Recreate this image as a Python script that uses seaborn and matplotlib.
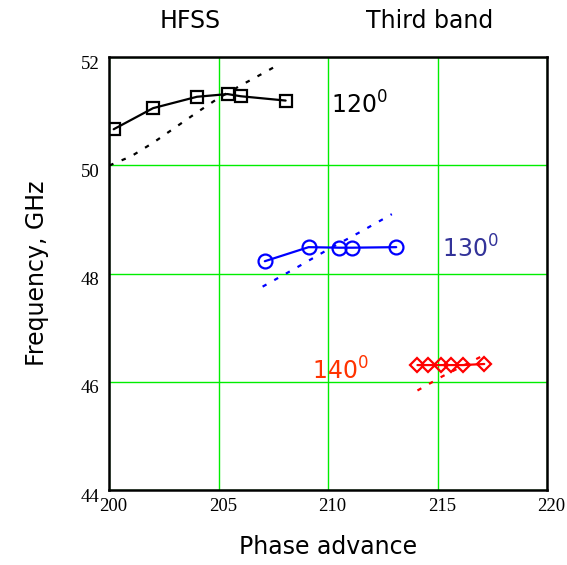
import matplotlib
matplotlib.use("Agg")
import matplotlib.pyplot as plt
import matplotlib.transforms as mtransforms
import seaborn as sns
import pandas as pd

# Simulated dispersion points (phase advance in degrees, frequency in GHz)
phase_120 = [200.2, 202.0, 204.0, 205.4, 206.0, 208.05]
freq_120 = [50.67, 51.06, 51.27, 51.32, 51.28, 51.20]
phase_130 = [207.1, 209.1, 210.5, 211.1, 213.1]
freq_130 = [48.23, 48.49, 48.48, 48.48, 48.49]
phase_140 = [214.07, 214.57, 215.13, 215.62, 216.14, 217.12]
freq_140 = [46.31, 46.31, 46.31, 46.31, 46.31, 46.33]

# Reference (analytic) curves
ref_phase_120 = [200.0, 201.0, 202.0, 203.0, 204.0, 205.0, 206.0, 207.0, 207.8]
ref_freq_120 = [50.00, 50.17, 50.42, 50.70, 50.98, 51.25, 51.48, 51.70, 51.88]
ref_phase_130 = [207.0, 208.5, 210.0, 211.5, 212.9]
ref_freq_130 = [47.76, 48.10, 48.45, 48.78, 49.10]
ref_phase_140 = [214.07, 215.2, 217.04]
ref_freq_140 = [45.84, 46.10, 46.48]

x_ticks = [200, 205, 210, 215, 220]
y_ticks = [44, 46, 48, 50, 52]

sns.set_theme(style="white")
plt.rcParams["font.family"] = ["DejaVu Sans"]
plt.rcParams["mathtext.fontset"] = "dejavusans"
for key in ("text.color", "axes.labelcolor", "xtick.color", "ytick.color"):
    plt.rcParams[key] = "black"

fig = plt.figure(figsize=(5.67, 5.65), dpi=100)
ax = fig.add_axes([0.1928, 0.1327, 0.7725, 0.7659])

dash = (0, (2.0, 4.0))

series = [
    (phase_120, freq_120, ref_phase_120, ref_freq_120, "black", "s", 9),
    (phase_130, freq_130, ref_phase_130, ref_freq_130, "#0000ff", "o", 10),
    (phase_140, freq_140, ref_phase_140, ref_freq_140, "#ff0000", "D", 7.5),
]
for px, fy, rx, ry, col, mk, ms in series:
    ref = pd.DataFrame({"phase": rx, "freq": ry})
    sns.lineplot(data=ref, x="phase", y="freq", ax=ax, color=col,
                 linewidth=1.6, linestyle=dash, sort=False, estimator=None)
    sim = pd.DataFrame({"phase": px, "freq": fy})
    sns.lineplot(data=sim, x="phase", y="freq", ax=ax, color=col,
                 linewidth=1.6, sort=False, estimator=None,
                 marker=mk, markersize=ms, markerfacecolor="none",
                 markeredgecolor=col, markeredgewidth=1.6)

ax.set_xlim(200, 220)
ax.set_ylim(44, 52)
ax.set_xticks(x_ticks)
ax.set_yticks(y_ticks)
ax.set_xticklabels([str(t) for t in x_ticks], family="Liberation Serif", fontsize=13.5)
ax.set_yticklabels([str(t) for t in y_ticks], family="Liberation Serif", fontsize=13.5)
ax.tick_params(axis="x", length=0, pad=6)
ax.tick_params(axis="y", length=0, pad=7)
# nudge tick labels: x labels slightly right, y labels slightly down
for lab in ax.get_xticklabels():
    lab.set_transform(lab.get_transform() + mtransforms.ScaledTranslation(4 / 100, 0, fig.dpi_scale_trans))
for lab in ax.get_yticklabels():
    lab.set_transform(lab.get_transform() + mtransforms.ScaledTranslation(0, -5 / 100, fig.dpi_scale_trans))
ax.grid(True, color="#00ee00", linewidth=1.0)
ax.set_axisbelow(True)
for s in ax.spines.values():
    s.set_color("black")
    s.set_linewidth(1.8)

ax.set_xlabel("Phase advance", fontsize=17, labelpad=14)
ax.set_ylabel("Frequency, GHz", fontsize=17, labelpad=23)

fig.text(0.335, 0.962, "HFSS", fontsize=17, ha="center", va="center")
fig.text(0.758, 0.962, "Third band", fontsize=17, ha="center", va="center")

ax.text(210.1, 51.12, r"120$^{0}$", fontsize=17, color="black", va="center")
ax.text(215.2, 48.45, r"130$^{0}$", fontsize=17, color="#333399", va="center")
ax.text(209.25, 46.2, r"140$^{0}$", fontsize=17, color="#ff3300", va="center")

fig.savefig("out.png", dpi=100)
